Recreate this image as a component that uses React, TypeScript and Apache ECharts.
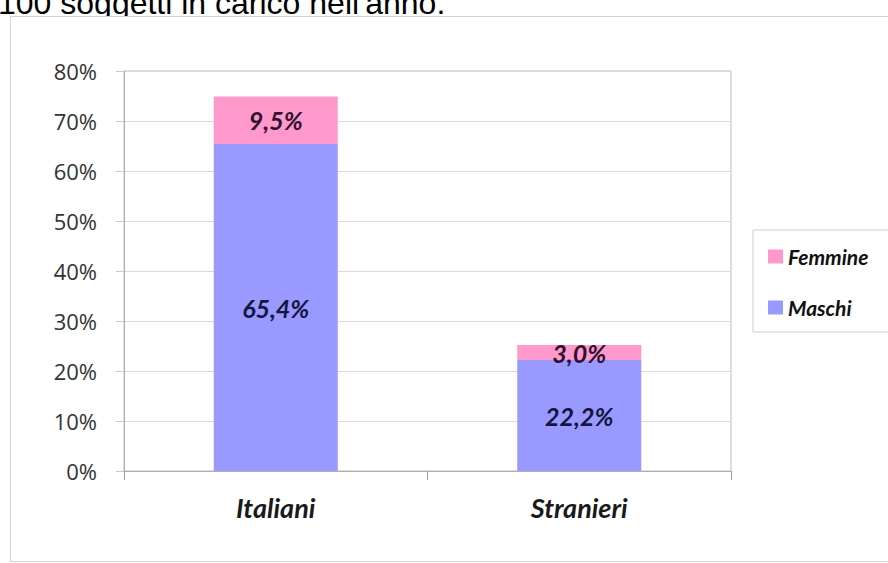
import React, { useEffect, useRef } from "react";
import * as echarts from "echarts";

const categories = ["Italiani", "Stranieri"];
const maschi = [65.4, 22.2];
const femmine = [9.5, 3.0];
const yTicks = { min: 0, max: 80, interval: 10 };
const titleText = "100 soggetti in carico nell'anno.";

const fmt = (v: number) => v.toFixed(1).replace(".", ",") + "%";

export default function App() {
  const ref = useRef<HTMLDivElement>(null);
  useEffect(() => {
    if (!ref.current) return;
    const chart = echarts.init(ref.current, undefined, { renderer: "svg" });
    const labelFont = {
      fontFamily: "Lato",
      fontWeight: "bold" as const,
      fontStyle: "italic" as const,
    };
    chart.setOption({
      animation: false,
      backgroundColor: "#ffffff",
      graphic: [
        {
          type: "text",
          x: -2,
          y: 19,
          z: -3,
          style: {
            text: titleText,
            font: "32px 'Liberation Sans', Arial, sans-serif",
            fill: "#000",
            verticalAlign: "bottom",
            textVerticalAlign: "bottom",
          },
        },
        {
          type: "rect",
          z: -2,
          shape: { x: 10.5, y: 16.5, width: 900, height: 545 },
          style: { fill: "#ffffff", stroke: "#d2d2d2", lineWidth: 1 },
        },
      ],
      grid: {
        left: 124,
        top: 71,
        right: 157,
        bottom: 92,
        show: true,
        borderColor: "#bdbdbd",
        borderWidth: 1,
        backgroundColor: "transparent",
      },
      legend: {
        orient: "vertical",
        left: 753,
        top: 230,
        data: ["Femmine", "Maschi"],
        icon: "rect",
        itemWidth: 15,
        itemHeight: 14,
        itemGap: 30,
        padding: [16, 40, 14, 15],
        borderColor: "#cfcfcf",
        borderWidth: 1,
        textStyle: { ...labelFont, fontSize: 21, color: "#111" },
      },
      xAxis: {
        type: "category",
        data: categories,
        axisLine: { lineStyle: { color: "#b0b0b0" } },
        axisTick: { show: true, length: 9, lineStyle: { color: "#a0a0a0" } },
        axisLabel: { ...labelFont, fontSize: 27, color: "#1a1a1a", margin: 23 },
      },
      yAxis: {
        type: "value",
        min: yTicks.min,
        max: yTicks.max,
        interval: yTicks.interval,
        axisLine: { show: true, lineStyle: { color: "#b0b0b0" } },
        axisTick: { show: true, length: 8, lineStyle: { color: "#c8c8c8" } },
        splitLine: { lineStyle: { color: "#dadada" } },
        axisLabel: {
          formatter: "{value}%",
          fontFamily: "Open Sans",
          fontSize: 22,
          color: "#333333",
          margin: 27,
        },
      },
      series: [
        {
          name: "Maschi",
          type: "bar",
          stack: "tot",
          data: maschi,
          barWidth: 124,
          itemStyle: { color: "#9999FF" },
          label: {
            show: true,
            position: "inside",
            formatter: (p: any) => fmt(p.value),
            ...labelFont,
            fontSize: 25,
            color: "#15153f",
          },
        },
        {
          name: "Femmine",
          type: "bar",
          stack: "tot",
          data: femmine,
          barWidth: 124,
          itemStyle: { color: "#FF99CC" },
          label: {
            show: true,
            position: "inside",
            formatter: (p: any) => fmt(p.value),
            ...labelFont,
            fontSize: 25,
            color: "#2e1030",
          },
        },
      ],
    });
    return () => chart.dispose();
  }, []);
  return <div ref={ref} style={{ width: 888, height: 563, position: "absolute", left: 0, top: 0 }} />;
}
